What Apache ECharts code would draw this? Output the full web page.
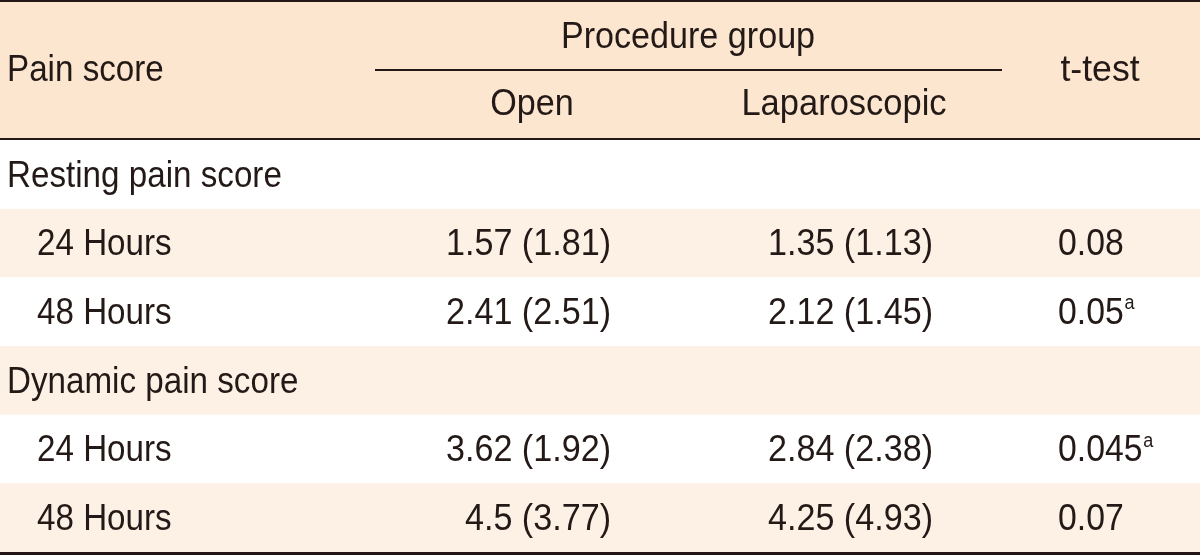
<!DOCTYPE html>
<html>
<head>
<meta charset="utf-8">
<script src="https://cdn.jsdelivr.net/npm/echarts@6/dist/echarts.min.js"></script>
<style>
html,body{margin:0;padding:0;background:#fff;}
#chart{width:1200px;height:555px;}
</style>
</head>
<body>
<div id="chart"></div>
<script>
// ---- data ----
const headerRowLabel = 'Pain score';
const groupHeader = 'Procedure group';
const groupColumns = ['Open', 'Laparoscopic'];
const testHeader = 't-test';

const rowLabels = ['Resting pain score', '24 Hours', '48 Hours', 'Dynamic pain score', '24 Hours', '48 Hours'];
const rowIsGroup = [true, false, false, true, false, false];
const openMean = [null, 1.57, 2.41, null, 3.62, 4.5];
const openSD   = [null, 1.81, 2.51, null, 1.92, 3.77];
const lapMean  = [null, 1.35, 2.12, null, 2.84, 4.25];
const lapSD    = [null, 1.13, 1.45, null, 2.38, 4.93];
const tTestP   = [null, 0.08, 0.05, null, 0.045, 0.07];
const tTestSig = [false, false, true, false, true, false];

// ---- style ----
const FONT = '"Liberation Sans", Arial, sans-serif';
const FS = 37.5;
const SX = 0.885;
const TEXT = '#231916';
const LINE = '#231815';
const HEAD_BG = '#FDE6D0';
const STRIPE = '#FDF1E6';
const HEAD_H = 140;

const chart = echarts.init(document.getElementById('chart'), null, {renderer: 'canvas'});

function fmt(m, s) { return m == null ? '' : String(m) + ' (' + String(s) + ')'; }

function txt(x, y, s, align, sx) {
  return {type: 'text', x: x, y: y, scaleX: sx || SX,
    style: {text: s, font: FS + 'px ' + FONT, fill: TEXT, textAlign: align, textVerticalAlign: 'middle'}};
}

const option = {
  animation: false,
  grid: {left: 0, right: 0, top: HEAD_H, bottom: 3},
  xAxis: {type: 'value', min: 0, max: 1200, show: false},
  yAxis: {type: 'category', data: rowLabels.map((_, i) => i), inverse: true, show: false},
  graphic: [
    {type: 'rect', shape: {x: 0, y: 0, width: 1200, height: HEAD_H}, style: {fill: HEAD_BG}, z: -10},
    {type: 'rect', shape: {x: 0, y: 0, width: 1200, height: 2}, style: {fill: LINE}},
    {type: 'rect', shape: {x: 0, y: HEAD_H - 2, width: 1200, height: 2}, style: {fill: LINE}},
    {type: 'rect', shape: {x: 375, y: 69, width: 627, height: 2}, style: {fill: LINE}},
    {type: 'rect', shape: {x: 0, y: 552, width: 1200, height: 3}, style: {fill: LINE}, z: 10},
    txt(7, 71, headerRowLabel, 'left'),
    txt(688, 38, groupHeader, 'center', 0.91),
    txt(532, 105, groupColumns[0], 'center', 0.91),
    txt(844, 105, groupColumns[1], 'center', 0.92),
    txt(1100, 71, testHeader, 'center', 0.95)
  ],
  series: [{
    type: 'custom',
    coordinateSystem: 'cartesian2d',
    data: rowLabels.map((_, i) => [0, i]),
    renderItem: function (params, api) {
      const i = api.value(1);
      const c = api.coord([0, i]);
      const bandH = api.size([0, 1])[1];
      const yc = c[1] + 2;
      const x = (v) => api.coord([v, i])[0];
      const children = [];
      if (i % 2 === 1) {
        children.push({type: 'rect', shape: {x: 0, y: c[1] - bandH / 2, width: 1200, height: bandH}, style: {fill: STRIPE}, z2: -5});
      }
      children.push(txt(x(rowIsGroup[i] ? 7 : 37), yc, rowLabels[i], 'left'));
      if (openMean[i] != null) {
        children.push(txt(x(611), yc, fmt(openMean[i], openSD[i]), 'right', 0.91));
        children.push(txt(x(933), yc, fmt(lapMean[i], lapSD[i]), 'right', 0.91));
        const pTxt = String(tTestP[i]);
        children.push({type: 'text', x: x(1058), y: yc, scaleX: 0.9,
          style: {
            text: tTestSig[i] ? '{v|' + pTxt + '}{s|a}' : '{v|' + pTxt + '}',
            textAlign: 'left', textVerticalAlign: 'middle',
            rich: {
              v: {font: FS + 'px ' + FONT, fill: TEXT, lineHeight: 40},
              s: {font: '20px ' + FONT, fill: TEXT, verticalAlign: 'top', lineHeight: 40, padding: [0, 0, 0, 1]}
            }
          }});
      }
      return {type: 'group', children: children};
    }
  }]
};
chart.setOption(option);
</script>
</body>
</html>
